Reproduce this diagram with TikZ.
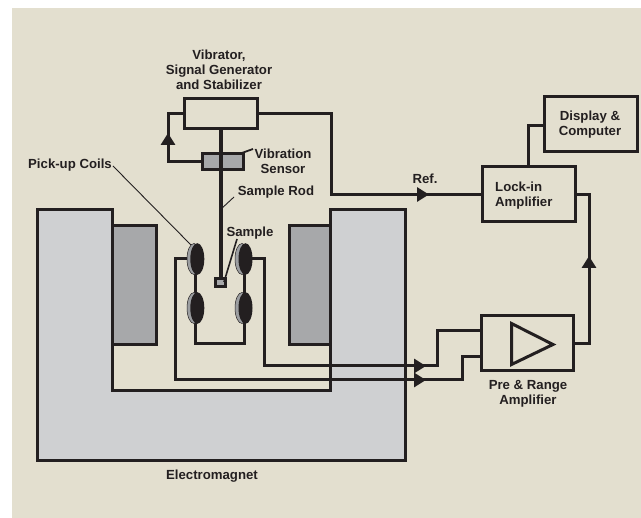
\documentclass[tikz,border=0pt]{standalone}
\usepackage{fontspec}
\setmainfont{Liberation Sans}
\usetikzlibrary{arrows.meta}
\definecolor{bgc}{HTML}{E3DFCF}
\definecolor{ink}{HTML}{231F20}
\definecolor{magc}{HTML}{CFD0D2}
\definecolor{polec}{HTML}{A7A8AA}
\definecolor{coilg}{HTML}{9C9EA1}
\tikzset{
  wire/.style={draw=ink,line width=3pt,line join=miter},
  box/.style={draw=ink,line width=3pt,inner sep=0pt,minimum width=#1},
  box/.default=10pt,
  lbl/.style={text=ink,inner sep=0pt,align=center,yshift=-0.7pt,font=\fontsize{13.2}{15}\selectfont\bfseries},
  thin leader/.style={draw=ink,line width=0.9pt},
  tip/.style={draw=ink,line width=3pt,-{Triangle[length=12pt,width=14pt]}},
}
\begin{document}
\begin{tikzpicture}[x=1pt,y=-1pt]
\useasboundingbox (0,0) rectangle (641,518);
\fill[bgc] (12,8) rectangle (641,518);
% electromagnet
\draw[wire,fill=magc] (37,210) -- (112,210) -- (112,391) -- (330,391) -- (330,210) -- (405,210) -- (405,461) -- (37,461) -- cycle;
\draw[wire,fill=polec] (112,226) -- (156,226) -- (156,345) -- (112,345) -- cycle;
\draw[wire,fill=polec] (330,226) -- (289,226) -- (289,345) -- (330,345) -- cycle;
% boxes
\node[box=73pt,minimum height=30pt] (vib) at (220.5,114) {};
\node[box=41pt,minimum height=16pt,fill=polec] (sens) at (222.5,161.5) {};
\node[box=93pt,minimum height=55pt] (lock) at (528.5,194.5) {};
\node[box=93pt,minimum height=55pt] (disp) at (590.5,124.5) {};
\node[box=92pt,minimum height=55pt] (pre) at (527,343.5) {};
\node[box=10pt,minimum height=8pt,fill=polec] (samp) at (220,283) {};
% coordinates
\coordinate (fbA) at (168,114);
\coordinate (fbB) at (168,162);
\coordinate (fbT0) at (168,146);
\coordinate (fbT1) at (168,133);
\coordinate (refA) at (331,114);
\coordinate (refB) at (331,194.5);
\coordinate (refT0) at (414,194.5);
\coordinate (refT1) at (429,194.5);
\coordinate (lockUp) at (528,126);
\coordinate (outA) at (589,194.5);
\coordinate (outB) at (589,343.5);
\coordinate (outT0) at (589,270);
\coordinate (outT1) at (589,256);
\coordinate (c1) at (437,331);
\coordinate (c2) at (437,366);
\coordinate (c3) at (264.5,366);
\coordinate (c4) at (264.5,259);
\coordinate (d1) at (462,357);
\coordinate (d2) at (462,380);
\coordinate (d3) at (175,380);
\coordinate (d4) at (175,259);
\coordinate (t1a) at (410,366);
\coordinate (t1b) at (426,366);
\coordinate (t2a) at (410,380);
\coordinate (t2b) at (426,380);
% rod and feedback
\draw[wire,line width=4pt] (vib.south) -- (samp.north -| vib.south);
\draw[wire] (vib.west) -- (fbA) -- (fbB) -- (fbB -| sens.west);
\draw[tip] (fbT0) -- (fbT1);
\draw[wire] (vib.east) -- (refA) -- (refB) -- (refB -| lock.west);
\draw[tip] (refT0) -- (refT1);
\draw[wire] (lock.north -| lockUp) -- (lockUp) -- (lockUp -| disp.west);
\draw[wire] (lock.east) -- (outA) -- (outB) -- (pre.east);
\draw[tip] (outT0) -- (outT1);
% triangle in amplifier
\draw[wire] (511.5,323.5) -- (553,344.5) -- (511.5,364.5) -- cycle;
% coil wiring
\coordinate (cu1) at (195,259);
\coordinate (cl1) at (195,308);
\coordinate (cu2) at (244,259);
\coordinate (cl2) at (244,308);
\coordinate (lowL) at (195,344);
\coordinate (lowR) at (244,344);
\draw[wire] (cu1) -- (lowL) -- (lowR) -- (cu2);
\draw[wire] (pre.west |- c1) -- (c1) -- (c2) -- (c3) -- (c4) -- (cu2);
\draw[wire] (pre.west |- d1) -- (d1) -- (d2) -- (d3) -- (d4) -- (cu1);
\draw[tip] (t1a) -- (t1b);
\draw[tip] (t2a) -- (t2b);
% coils
\foreach \n/\gx/\bx/\y in {a/194/197.3/259,b/194/197.3/308,c/242/245.5/259,d/242/245.5/308}{
  \fill[coilg] (\gx,\y) ellipse [x radius=7,y radius=15.5];
  \draw[ink,line width=0.5pt] (\gx,\y) ellipse [x radius=7,y radius=15.5];
  \fill[ink] (\bx,\y) ellipse [x radius=7,y radius=15.8];
}
% labels
\node[lbl] (tVib) at (219,69) {Vibrator,\\Signal Generator\\and Stabilizer};
\node[lbl] (tSens) at (283,160.5) {Vibration\\Sensor};
\node[lbl] (tRod) at (276,191) {Sample Rod};
\node[lbl] (tSamp) at (250,232) {Sample};
\node[lbl] (tCoil) at (70,164) {Pick-up Coils};
\node[lbl] (tRef) at (425,178) {Ref.};
\node[lbl,align=left,anchor=west] (tLock) at (495,194.5) {Lock-in\\Amplifier};
\node[lbl] at (590,123.5) (tDisp) {Display \&\\Computer};
\node[lbl] (tPre) at (528,393.5) {Pre \& Range\\Amplifier};
\node[lbl] (tEm) at (212,475) {Electromagnet};
% leaders
\coordinate (ldCoilA) at (113,166);
\coordinate (ldCoilB) at (191,245);
\coordinate (ldRodA) at (234,197);
\coordinate (ldRodB) at (220,210);
\coordinate (ldSensA) at (253,149);
\coordinate (ldSensB) at (239,154);
\coordinate (ldSampA) at (237,239);
\coordinate (ldSampB) at (224,282);
\draw[thin leader] (ldCoilA) -- (ldCoilB);
\draw[thin leader] (ldRodA) -- (ldRodB);
\draw[wire,line width=1.8pt] (ldSensA) -- (ldSensB);
\draw[wire,line width=1.6pt] (ldSampA) -- (ldSampB);
\end{tikzpicture}
\end{document}
